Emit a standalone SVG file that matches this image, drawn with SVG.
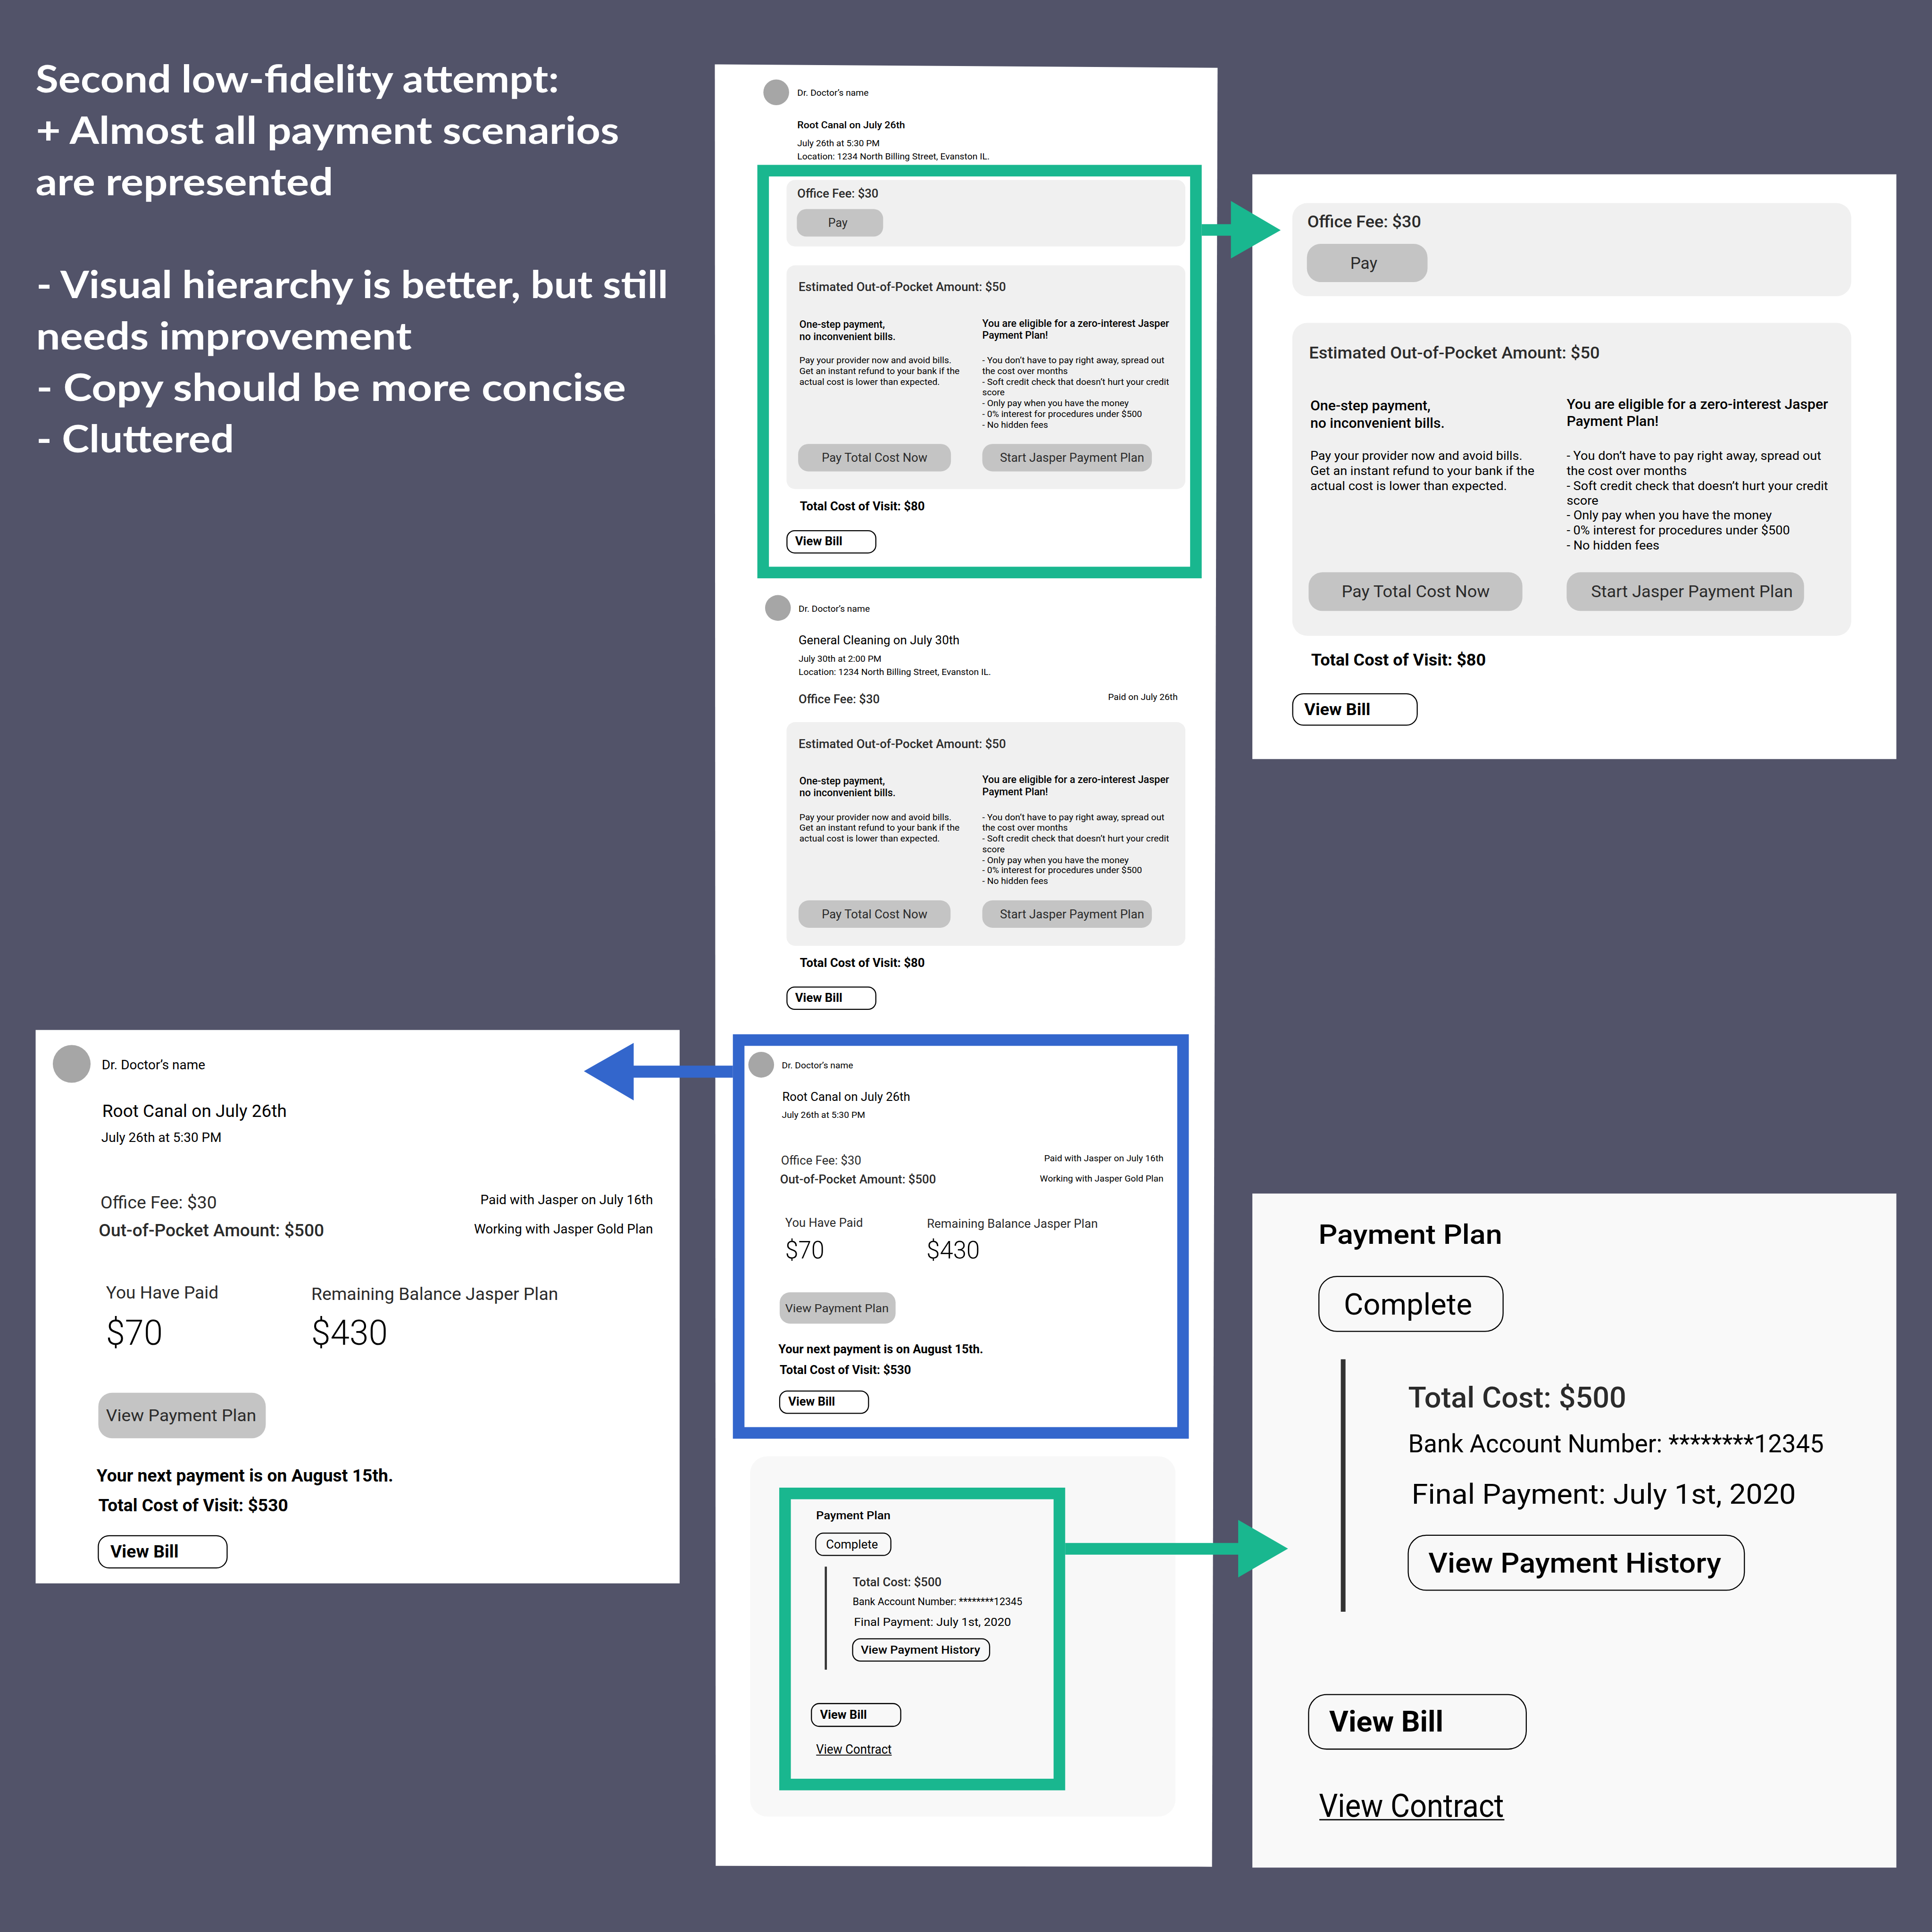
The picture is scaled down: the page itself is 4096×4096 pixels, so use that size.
<svg xmlns="http://www.w3.org/2000/svg" width="4096" height="4096" viewBox="0 0 4096 4096">
<defs><style>
text{font-family:Roboto,"Liberation Sans",sans-serif;fill:#000;font-weight:400}
.t{font-family:Lato,"Open Sans",sans-serif;font-weight:700;fill:#fff;font-size:88px}
.m{font-weight:500}.b{font-weight:700}.l{font-weight:300}.g{fill:#2b2b2b}
.panel{fill:#f0f0f0}.btn{fill:#c4c4c4}.out{fill:#fff;stroke:#000;stroke-width:2.5}.out2{fill:#f8f8f8;stroke:#000;stroke-width:2.5}
.av{fill:#a6a6a6}
.fg{fill:none;stroke:#19b78f;stroke-width:27}.fb{fill:none;stroke:#3366cc;stroke-width:27}
.ag{fill:#19b78f}.ab{fill:#3366cc}
.s21{font-size:21px}.s24{font-size:24px}.s28{font-size:28px}.s29{font-size:29px}.s33{font-size:33px}.s39{font-size:39px}
</style></defs>
<rect width="4096" height="4096" fill="#525369"/>
<g transform="scale(0.910222)">
<g id="notes">
<text class="t" x="83" y="215" textLength="1219" lengthAdjust="spacingAndGlyphs">Second low-fidelity attempt:</text>
<text class="t" x="84" y="335" textLength="1358" lengthAdjust="spacingAndGlyphs">+ Almost all payment scenarios</text>
<text class="t" x="83" y="455" textLength="693" lengthAdjust="spacingAndGlyphs">are represented</text>
<text class="t" x="85" y="694" textLength="1471" lengthAdjust="spacingAndGlyphs">- Visual hierarchy is better, but still</text>
<text class="t" x="84" y="814" textLength="875" lengthAdjust="spacingAndGlyphs">needs improvement</text>
<text class="t" x="85" y="934" textLength="1373" lengthAdjust="spacingAndGlyphs">- Copy should be more concise</text>
<text class="t" x="85" y="1054" textLength="460" lengthAdjust="spacingAndGlyphs">- Cluttered</text>
</g>
<g id="page"><polygon points="1665,150 2836,158 2823,4348 1667,4346" fill="#fff"/></g>
<g id="card-root-canal">
<circle class="av" cx="1808" cy="215" r="30"/>
<text class="s21" x="1857" y="223" textLength="166" lengthAdjust="spacingAndGlyphs">Dr. Doctor’s name</text>
<text class="m" font-size="23" x="1857" y="299" textLength="251" lengthAdjust="spacingAndGlyphs">Root Canal on July 26th</text>
<text class="s21" x="1857" y="341" textLength="192" lengthAdjust="spacingAndGlyphs">July 26th at 5:30 PM</text>
<text class="s21" x="1857" y="371" textLength="448" lengthAdjust="spacingAndGlyphs">Location: 1234 North Billing Street, Evanston IL.</text>
<rect class="panel" x="1832" y="419" width="929" height="155" rx="20"/>
<text class="s28 m g" x="1857" y="460" textLength="189" lengthAdjust="spacingAndGlyphs">Office Fee: $30</text>
<rect class="btn" x="1856" y="487" width="201" height="64" rx="22"/>
<text class="s28 g" x="1929" y="528" textLength="45" lengthAdjust="spacingAndGlyphs">Pay</text>
<rect class="panel" x="1832" y="618" width="929" height="521" rx="20"/>
<text class="s28 m g" x="1860" y="678" textLength="483" lengthAdjust="spacingAndGlyphs">Estimated Out-of-Pocket Amount: $50</text>
<text class="s24 m" x="1862" y="764" textLength="199" lengthAdjust="spacingAndGlyphs">One-step payment,</text>
<text class="s24 m" x="1862" y="792" textLength="224" lengthAdjust="spacingAndGlyphs">no inconvenient bills.</text>
<text class="s24 m" x="2288" y="761" textLength="435" lengthAdjust="spacingAndGlyphs">You are eligible for a zero-interest Jasper</text>
<text class="s24 m" x="2288" y="789" textLength="153" lengthAdjust="spacingAndGlyphs">Payment Plan!</text>
<text class="s21" x="1862" y="846" textLength="354" lengthAdjust="spacingAndGlyphs">Pay your provider now and avoid bills.</text>
<text class="s21" x="1862" y="871" textLength="373" lengthAdjust="spacingAndGlyphs">Get an instant refund to your bank if the</text>
<text class="s21" x="1862" y="896" textLength="327" lengthAdjust="spacingAndGlyphs">actual cost is lower than expected.</text>
<text class="s21" x="2288" y="846" textLength="424" lengthAdjust="spacingAndGlyphs">- You don’t have to pay right away, spread out</text>
<text class="s21" x="2288" y="871" textLength="199" lengthAdjust="spacingAndGlyphs">the cost over months</text>
<text class="s21" x="2288" y="896" textLength="435" lengthAdjust="spacingAndGlyphs">- Soft credit check that doesn’t hurt your credit</text>
<text class="s21" x="2288" y="921" textLength="52" lengthAdjust="spacingAndGlyphs">score</text>
<text class="s21" x="2288" y="946" textLength="341" lengthAdjust="spacingAndGlyphs">- Only pay when you have the money</text>
<text class="s21" x="2288" y="971" textLength="372" lengthAdjust="spacingAndGlyphs">- 0% interest for procedures under $500</text>
<text class="s21" x="2288" y="996" textLength="153" lengthAdjust="spacingAndGlyphs">- No hidden fees</text>
<rect class="btn" x="1859" y="1034" width="356" height="64" rx="24"/>
<text class="s28 g" x="1914" y="1076" textLength="246" lengthAdjust="spacingAndGlyphs">Pay Total Cost Now</text>
<rect class="btn" x="2288" y="1034" width="395" height="64" rx="24"/>
<text class="s28 g" x="2329" y="1076" textLength="336" lengthAdjust="spacingAndGlyphs">Start Jasper Payment Plan</text>
<text class="s28 b" x="1863" y="1189" textLength="291" lengthAdjust="spacingAndGlyphs">Total Cost of Visit: $80</text>
<rect class="out" x="1833" y="1236" width="207" height="52" rx="18"/>
<text class="s28 b" x="1852" y="1270" textLength="110" lengthAdjust="spacingAndGlyphs">View Bill</text>
</g>
<g id="detail-root-canal-fees">
<rect x="2917" y="406" width="1500" height="1362" fill="#fff"/>
<rect class="panel" x="3010" y="473" width="1302" height="217" rx="35"/>
<text class="s39 m g" x="3045" y="530" textLength="265" lengthAdjust="spacingAndGlyphs">Office Fee: $30</text>
<rect class="btn" x="3044" y="568" width="281" height="89" rx="32"/>
<text class="s39 g" x="3145" y="626" textLength="63" lengthAdjust="spacingAndGlyphs">Pay</text>
<rect class="panel" x="3010" y="752" width="1302" height="729" rx="35"/>
<text class="s39 m g" x="3049" y="835" textLength="677" lengthAdjust="spacingAndGlyphs">Estimated Out-of-Pocket Amount: $50</text>
<text class="s33 m" x="3052" y="956" textLength="280" lengthAdjust="spacingAndGlyphs">One-step payment,</text>
<text class="s33 m" x="3052" y="996" textLength="313" lengthAdjust="spacingAndGlyphs">no inconvenient bills.</text>
<text class="s33 m" x="3649" y="952" textLength="609" lengthAdjust="spacingAndGlyphs">You are eligible for a zero-interest Jasper</text>
<text class="s33 m" x="3649" y="992" textLength="214" lengthAdjust="spacingAndGlyphs">Payment Plan!</text>
<text class="s29" x="3052" y="1071" textLength="494" lengthAdjust="spacingAndGlyphs">Pay your provider now and avoid bills.</text>
<text class="s29" x="3052" y="1106" textLength="522" lengthAdjust="spacingAndGlyphs">Get an instant refund to your bank if the</text>
<text class="s29" x="3052" y="1141" textLength="458" lengthAdjust="spacingAndGlyphs">actual cost is lower than expected.</text>
<text class="s29" x="3649" y="1071" textLength="593" lengthAdjust="spacingAndGlyphs">- You don’t have to pay right away, spread out</text>
<text class="s29" x="3649" y="1106" textLength="280" lengthAdjust="spacingAndGlyphs">the cost over months</text>
<text class="s29" x="3649" y="1141" textLength="609" lengthAdjust="spacingAndGlyphs">- Soft credit check that doesn’t hurt your credit</text>
<text class="s29" x="3649" y="1175" textLength="74" lengthAdjust="spacingAndGlyphs">score</text>
<text class="s29" x="3649" y="1210" textLength="478" lengthAdjust="spacingAndGlyphs">- Only pay when you have the money</text>
<text class="s29" x="3649" y="1245" textLength="520" lengthAdjust="spacingAndGlyphs">- 0% interest for procedures under $500</text>
<text class="s29" x="3649" y="1280" textLength="216" lengthAdjust="spacingAndGlyphs">- No hidden fees</text>
<rect class="btn" x="3048" y="1333" width="498" height="90" rx="32"/>
<text class="s39 g" x="3125" y="1391" textLength="345" lengthAdjust="spacingAndGlyphs">Pay Total Cost Now</text>
<rect class="btn" x="3649" y="1333" width="553" height="90" rx="32"/>
<text class="s39 g" x="3706" y="1391" textLength="470" lengthAdjust="spacingAndGlyphs">Start Jasper Payment Plan</text>
<text class="s39 b" x="3054" y="1550" textLength="407" lengthAdjust="spacingAndGlyphs">Total Cost of Visit: $80</text>
<rect class="out" x="3011" y="1616" width="290" height="73" rx="25"/>
<text class="s39 b" x="3038" y="1666" textLength="154" lengthAdjust="spacingAndGlyphs">View Bill</text>
</g>
<g id="card-general-cleaning">
<circle class="av" cx="1812" cy="1416" r="30"/>
<text class="s21" x="1860" y="1425" textLength="166" lengthAdjust="spacingAndGlyphs">Dr. Doctor’s name</text>
<text class="s28" x="1860" y="1501" textLength="375" lengthAdjust="spacingAndGlyphs">General Cleaning on July 30th</text>
<text class="s21" x="1860" y="1541" textLength="193" lengthAdjust="spacingAndGlyphs">July 30th at 2:00 PM</text>
<text class="s21" x="1860" y="1572" textLength="448" lengthAdjust="spacingAndGlyphs">Location: 1234 North Billing Street, Evanston IL.</text>
<text class="s28 m g" x="1860" y="1638" textLength="189" lengthAdjust="spacingAndGlyphs">Office Fee: $30</text>
<text class="s21" x="2581" y="1630" textLength="162" lengthAdjust="spacingAndGlyphs">Paid on July 26th</text>
<rect class="panel" x="1832" y="1682" width="929" height="521" rx="20"/>
<text class="s28 m g" x="1860" y="1742" textLength="483" lengthAdjust="spacingAndGlyphs">Estimated Out-of-Pocket Amount: $50</text>
<text class="s24 m" x="1862" y="1827" textLength="199" lengthAdjust="spacingAndGlyphs">One-step payment,</text>
<text class="s24 m" x="1862" y="1855" textLength="224" lengthAdjust="spacingAndGlyphs">no inconvenient bills.</text>
<text class="s24 m" x="2288" y="1824" textLength="435" lengthAdjust="spacingAndGlyphs">You are eligible for a zero-interest Jasper</text>
<text class="s24 m" x="2288" y="1852" textLength="153" lengthAdjust="spacingAndGlyphs">Payment Plan!</text>
<text class="s21" x="1862" y="1910" textLength="354" lengthAdjust="spacingAndGlyphs">Pay your provider now and avoid bills.</text>
<text class="s21" x="1862" y="1935" textLength="373" lengthAdjust="spacingAndGlyphs">Get an instant refund to your bank if the</text>
<text class="s21" x="1862" y="1960" textLength="327" lengthAdjust="spacingAndGlyphs">actual cost is lower than expected.</text>
<text class="s21" x="2288" y="1910" textLength="424" lengthAdjust="spacingAndGlyphs">- You don’t have to pay right away, spread out</text>
<text class="s21" x="2288" y="1935" textLength="199" lengthAdjust="spacingAndGlyphs">the cost over months</text>
<text class="s21" x="2288" y="1960" textLength="435" lengthAdjust="spacingAndGlyphs">- Soft credit check that doesn’t hurt your credit</text>
<text class="s21" x="2288" y="1985" textLength="52" lengthAdjust="spacingAndGlyphs">score</text>
<text class="s21" x="2288" y="2010" textLength="341" lengthAdjust="spacingAndGlyphs">- Only pay when you have the money</text>
<text class="s21" x="2288" y="2034" textLength="372" lengthAdjust="spacingAndGlyphs">- 0% interest for procedures under $500</text>
<text class="s21" x="2288" y="2059" textLength="153" lengthAdjust="spacingAndGlyphs">- No hidden fees</text>
<rect class="btn" x="1860" y="2097" width="354" height="64" rx="24"/>
<text class="s28 g" x="1914" y="2139" textLength="246" lengthAdjust="spacingAndGlyphs">Pay Total Cost Now</text>
<rect class="btn" x="2288" y="2097" width="395" height="64" rx="24"/>
<text class="s28 g" x="2329" y="2139" textLength="336" lengthAdjust="spacingAndGlyphs">Start Jasper Payment Plan</text>
<text class="s28 b" x="1863" y="2252" textLength="291" lengthAdjust="spacingAndGlyphs">Total Cost of Visit: $80</text>
<rect class="out" x="1833" y="2299" width="207" height="52" rx="18"/>
<text class="s28 b" x="1852" y="2333" textLength="110" lengthAdjust="spacingAndGlyphs">View Bill</text>
</g>
<g id="card-jasper-plan">
<circle class="av" cx="1773" cy="2480" r="30"/>
<text class="s21" x="1821" y="2488" textLength="166" lengthAdjust="spacingAndGlyphs">Dr. Doctor’s name</text>
<text class="s28" x="1822" y="2564" textLength="298" lengthAdjust="spacingAndGlyphs">Root Canal on July 26th</text>
<text class="s21" x="1821" y="2604" textLength="194" lengthAdjust="spacingAndGlyphs">July 26th at 5:30 PM</text>
<text class="s28 g" x="1819" y="2713" textLength="187" lengthAdjust="spacingAndGlyphs">Office Fee: $30</text>
<text class="s28 m g" x="1817" y="2757" textLength="363" lengthAdjust="spacingAndGlyphs">Out-of-Pocket Amount: $500</text>
<text class="s21" x="2432" y="2705" textLength="278" lengthAdjust="spacingAndGlyphs">Paid with Jasper on July 16th</text>
<text class="s21" x="2422" y="2752" textLength="288" lengthAdjust="spacingAndGlyphs">Working with Jasper Gold Plan</text>
<text class="s28 g" x="1829" y="2858" textLength="181" lengthAdjust="spacingAndGlyphs">You Have Paid</text>
<text class="s28 g" x="2159" y="2860" textLength="398" lengthAdjust="spacingAndGlyphs">Remaining Balance Jasper Plan</text>
<text class="l" font-size="56" x="1829" y="2931" textLength="91" lengthAdjust="spacingAndGlyphs">$70</text>
<text class="l" font-size="56" x="2158" y="2931" textLength="124" lengthAdjust="spacingAndGlyphs">$430</text>
<rect class="btn" x="1816" y="3010" width="270" height="73" rx="24"/>
<text class="g" font-size="27" x="1829" y="3056" textLength="241" lengthAdjust="spacingAndGlyphs">View Payment Plan</text>
<text class="s28 b" x="1813" y="3152" textLength="477" lengthAdjust="spacingAndGlyphs">Your next payment is on August 15th.</text>
<text class="s28 b" x="1816" y="3200" textLength="306" lengthAdjust="spacingAndGlyphs">Total Cost of Visit: $530</text>
<rect class="out" x="1816" y="3240" width="207" height="52" rx="18"/>
<text class="s28 b" x="1836" y="3274" textLength="109" lengthAdjust="spacingAndGlyphs">View Bill</text>
</g>
<g id="detail-jasper-plan">
<rect x="83" y="2399" width="1500" height="1289" fill="#fff"/>
<circle class="av" cx="167" cy="2478" r="44"/>
<text font-size="30" x="237" y="2491" textLength="241" lengthAdjust="spacingAndGlyphs">Dr. Doctor’s name</text>
<text font-size="41" x="238" y="2602" textLength="430" lengthAdjust="spacingAndGlyphs">Root Canal on July 26th</text>
<text font-size="30" x="236" y="2660" textLength="280" lengthAdjust="spacingAndGlyphs">July 26th at 5:30 PM</text>
<text class="g" font-size="40" x="234" y="2815" textLength="271" lengthAdjust="spacingAndGlyphs">Office Fee: $30</text>
<text class="m g" font-size="40" x="230" y="2880" textLength="525" lengthAdjust="spacingAndGlyphs">Out-of-Pocket Amount: $500</text>
<text font-size="31" x="1119" y="2805" textLength="402" lengthAdjust="spacingAndGlyphs">Paid with Jasper on July 16th</text>
<text font-size="31" x="1104" y="2873" textLength="417" lengthAdjust="spacingAndGlyphs">Working with Jasper Gold Plan</text>
<text class="g" font-size="40" x="247" y="3025" textLength="262" lengthAdjust="spacingAndGlyphs">You Have Paid</text>
<text class="g" font-size="40" x="725" y="3028" textLength="575" lengthAdjust="spacingAndGlyphs">Remaining Balance Jasper Plan</text>
<text class="l" font-size="81" x="247" y="3132" textLength="132" lengthAdjust="spacingAndGlyphs">$70</text>
<text class="l" font-size="81" x="725" y="3132" textLength="178" lengthAdjust="spacingAndGlyphs">$430</text>
<rect class="btn" x="229" y="3244" width="390" height="106" rx="32"/>
<text class="g" font-size="38" x="247" y="3310" textLength="350" lengthAdjust="spacingAndGlyphs">View Payment Plan</text>
<text class="b" font-size="40" x="225" y="3451" textLength="691" lengthAdjust="spacingAndGlyphs">Your next payment is on August 15th.</text>
<text class="b" font-size="40" x="229" y="3520" textLength="442" lengthAdjust="spacingAndGlyphs">Total Cost of Visit: $530</text>
<rect class="out" x="229" y="3577" width="300" height="75" rx="25"/>
<text class="b" font-size="40" x="257" y="3628" textLength="159" lengthAdjust="spacingAndGlyphs">View Bill</text>
</g>
<g id="card-payment-plan">
<rect x="1747" y="3392" width="991" height="839" rx="40" fill="#f8f8f8"/>
<text class="m" font-size="26" x="1901" y="3539" textLength="173" lengthAdjust="spacingAndGlyphs">Payment Plan</text>
<rect class="out2" x="1900" y="3571" width="175" height="52" rx="18"/>
<text class="s28" x="1924" y="3607" textLength="121" lengthAdjust="spacingAndGlyphs">Complete</text>
<rect x="1921" y="3649" width="5" height="240" fill="#333"/>
<text class="s28 m g" x="1986" y="3695" textLength="207" lengthAdjust="spacingAndGlyphs">Total Cost: $500</text>
<text class="s24" x="1986" y="3739" textLength="395" lengthAdjust="spacingAndGlyphs">Bank Account Number: ********12345</text>
<text font-size="27" x="1989" y="3787" textLength="366" lengthAdjust="spacingAndGlyphs">Final Payment: July 1st, 2020</text>
<rect class="out2" x="1986" y="3817" width="319" height="52" rx="18"/>
<text class="m" font-size="27" x="2005" y="3852" textLength="278" lengthAdjust="spacingAndGlyphs">View Payment History</text>
<rect class="out2" x="1890" y="3968" width="208" height="53" rx="18"/>
<text class="s28 b" x="1910" y="4003" textLength="109" lengthAdjust="spacingAndGlyphs">View Bill</text>
<text font-size="30" x="1901" y="4085" textLength="176" lengthAdjust="spacingAndGlyphs">View Contract</text>
<rect x="1901" y="4087" width="176" height="2" fill="#000"/>
</g>
<g id="detail-payment-plan">
<rect x="2917" y="2780" width="1500" height="1570" fill="#f9f9f9"/>
<text class="m" font-size="64" x="3071" y="2897" textLength="428" lengthAdjust="spacingAndGlyphs">Payment Plan</text>
<rect class="out2" x="3072" y="2973" width="429" height="128" rx="42"/>
<text font-size="69" x="3130" y="3062" textLength="299" lengthAdjust="spacingAndGlyphs">Complete</text>
<rect x="3123" y="3166" width="11" height="588" fill="#333"/>
<text class="m g" font-size="67" x="3280" y="3278" textLength="508" lengthAdjust="spacingAndGlyphs">Total Cost: $500</text>
<text font-size="58" x="3280" y="3383" textLength="968" lengthAdjust="spacingAndGlyphs">Bank Account Number: ********12345</text>
<text font-size="66" x="3288" y="3502" textLength="895" lengthAdjust="spacingAndGlyphs">Final Payment: July 1st, 2020</text>
<rect class="out2" x="3280" y="3576" width="783" height="128" rx="42"/>
<text class="m" font-size="65" x="3327" y="3663" textLength="682" lengthAdjust="spacingAndGlyphs">View Payment History</text>
<rect class="out2" x="3048" y="3947" width="507" height="127" rx="42"/>
<text class="b" font-size="67" x="3096" y="4033" textLength="266" lengthAdjust="spacingAndGlyphs">View Bill</text>
<text font-size="75" x="3072" y="4232" textLength="431" lengthAdjust="spacingAndGlyphs">View Contract</text>
<rect x="3073" y="4237" width="431" height="3" fill="#000"/>
</g>
<g id="connectors">
<rect class="fg" x="1777.5" y="397.5" width="1008" height="936"/>
<rect class="fb" x="1720.5" y="2422.5" width="1035" height="915"/>
<rect class="fg" x="1828.5" y="3478.5" width="639" height="678"/>
<path class="ag" d="M2799 522H2867V468L2983 536L2867 602V549H2799Z"/>
<path class="ab" d="M1707 2482H1476V2429L1360 2495L1476 2563V2510H1707Z"/>
<path class="ag" d="M2481 3594H2884V3540L3000 3607L2884 3674V3621H2481Z"/>
</g>
</g>
</svg>
